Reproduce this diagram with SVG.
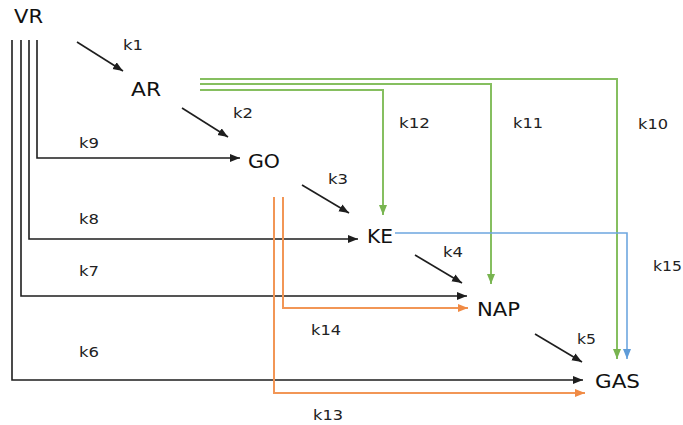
<svg xmlns="http://www.w3.org/2000/svg" width="683" height="425" viewBox="0 0 683 425">
<style>
.node{font-family:"DejaVu Sans","Liberation Sans",sans-serif;font-size:19px;fill:#111}
.lbl{font-family:"DejaVu Sans","Liberation Sans",sans-serif;font-size:14px;fill:#222}
.c{fill:none;stroke-linecap:butt;stroke-linejoin:miter}
.blk{stroke:#1e1e1e;stroke-width:1.6}
.grn{stroke:#86bf60;stroke-width:2}
.blu{stroke:#6ea7df;stroke-width:1.6}
.org{stroke:#f29656;stroke-width:2}
</style>
<defs>
<marker id="aB" markerUnits="userSpaceOnUse" markerWidth="11" markerHeight="9" refX="10" refY="4" orient="auto"><path d="M0,0 L10,4 L0,8 z" fill="#1e1e1e"/></marker>
<marker id="aG" markerUnits="userSpaceOnUse" markerWidth="11" markerHeight="9" refX="10" refY="4" orient="auto"><path d="M0,0 L10,4 L0,8 z" fill="#78b450"/></marker>
<marker id="aL" markerUnits="userSpaceOnUse" markerWidth="11" markerHeight="9" refX="10" refY="4" orient="auto"><path d="M0,0 L10,4 L0,8 z" fill="#5f9cd8"/></marker>
<marker id="aO" markerUnits="userSpaceOnUse" markerWidth="11" markerHeight="9" refX="10" refY="4" orient="auto"><path d="M0,0 L10,4 L0,8 z" fill="#f08a44"/></marker>
</defs>
<rect width="683" height="425" fill="#ffffff"/>
<g id="connectors">
<path class="c blk" d="M37,40 V158 H240" marker-end="url(#aB)"/>
<path class="c blk" d="M29,40 V239 H358" marker-end="url(#aB)"/>
<path class="c blk" d="M21,40 V296 H467" marker-end="url(#aB)"/>
<path class="c blk" d="M12,40 V380 H583" marker-end="url(#aB)"/>
<path class="c org" d="M283,197 V308 H468" marker-end="url(#aO)"/>
<path class="c org" d="M274,197 V393 H585" marker-end="url(#aO)"/>
<path class="c grn" d="M200,79 H617 V359" marker-end="url(#aG)"/>
<path class="c grn" d="M200,84 H491 V284" marker-end="url(#aG)"/>
<path class="c grn" d="M200,90 H383 V215" marker-end="url(#aG)"/>
<path class="c blu" d="M395,233 H627 V359" marker-end="url(#aL)"/>
<path class="c blk" d="M77,42 L123,71" marker-end="url(#aB)"/>
<path class="c blk" d="M182,108 L228,137" marker-end="url(#aB)"/>
<path class="c blk" d="M302,185 L349,213" marker-end="url(#aB)"/>
<path class="c blk" d="M415,255 L462,283" marker-end="url(#aB)"/>
<path class="c blk" d="M535,334 L582,362" marker-end="url(#aB)"/>
<text class="lbl" x="123" y="50" textLength="20" lengthAdjust="spacingAndGlyphs">k1</text>
<text class="lbl" x="233" y="118" textLength="20" lengthAdjust="spacingAndGlyphs">k2</text>
<text class="lbl" x="328" y="184" textLength="20" lengthAdjust="spacingAndGlyphs">k3</text>
<text class="lbl" x="443" y="257" textLength="20" lengthAdjust="spacingAndGlyphs">k4</text>
<text class="lbl" x="577" y="344" textLength="19" lengthAdjust="spacingAndGlyphs">k5</text>
<text class="lbl" x="79" y="357" textLength="20" lengthAdjust="spacingAndGlyphs">k6</text>
<text class="lbl" x="79" y="276" textLength="20" lengthAdjust="spacingAndGlyphs">k7</text>
<text class="lbl" x="79" y="224" textLength="20" lengthAdjust="spacingAndGlyphs">k8</text>
<text class="lbl" x="79" y="148" textLength="20" lengthAdjust="spacingAndGlyphs">k9</text>
<text class="lbl" x="638" y="129" textLength="30" lengthAdjust="spacingAndGlyphs">k10</text>
<text class="lbl" x="513" y="128" textLength="30" lengthAdjust="spacingAndGlyphs">k11</text>
<text class="lbl" x="399" y="128" textLength="31" lengthAdjust="spacingAndGlyphs">k12</text>
<text class="lbl" x="313" y="420" textLength="30" lengthAdjust="spacingAndGlyphs">k13</text>
<text class="lbl" x="311" y="335" textLength="30" lengthAdjust="spacingAndGlyphs">k14</text>
<text class="lbl" x="653" y="271" textLength="29" lengthAdjust="spacingAndGlyphs">k15</text>
</g>
<g id="node-VR"><text class="node" x="14" y="23" textLength="29" lengthAdjust="spacingAndGlyphs">VR</text></g>
<g id="node-AR"><text class="node" x="131" y="96" textLength="30" lengthAdjust="spacingAndGlyphs">AR</text></g>
<g id="node-GO"><text class="node" x="248" y="168" textLength="32" lengthAdjust="spacingAndGlyphs">GO</text></g>
<g id="node-KE"><text class="node" x="367" y="243" textLength="26" lengthAdjust="spacingAndGlyphs">KE</text></g>
<g id="node-NAP"><text class="node" x="477" y="316" textLength="43" lengthAdjust="spacingAndGlyphs">NAP</text></g>
<g id="node-GAS"><text class="node" x="595" y="388" textLength="45" lengthAdjust="spacingAndGlyphs">GAS</text></g>
</svg>
